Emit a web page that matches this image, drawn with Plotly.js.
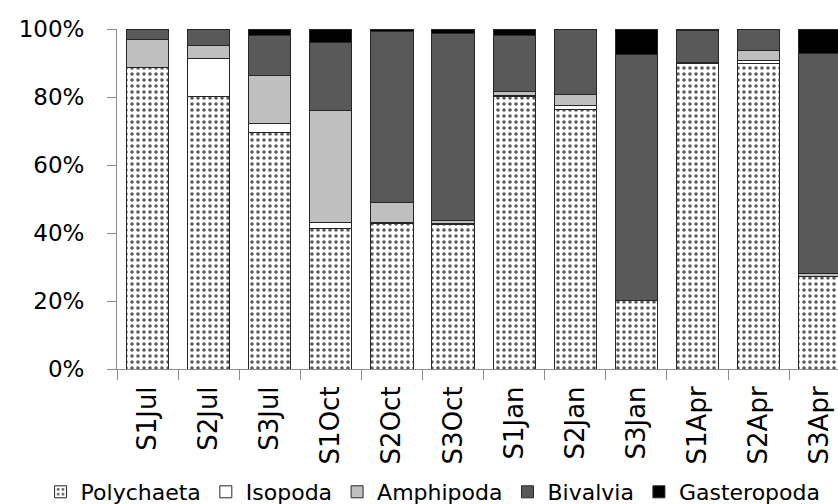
<!DOCTYPE html>
<html>
<head>
<meta charset="utf-8">
<script src="https://cdn.plot.ly/plotly-3.0.1.min.js"></script>
<style>html,body{margin:0;padding:0;background:#fff;}#chart{width:838px;height:504px;}</style>
</head>
<body>
<div id="chart"></div>
<script>
var categories = ["S1Jul","S2Jul","S3Jul","S1Oct","S2Oct","S3Oct","S1Jan","S2Jan","S3Jan","S1Apr","S2Apr","S3Apr"];
var polychaeta  = [88.6, 80.1, 69.5, 41.4, 42.8, 42.5, 80.1, 76.2, 20.1, 89.9, 89.9, 27.3];
var isopoda     = [0.0, 11.3, 2.6, 1.6, 0.3, 0.4, 0.3, 1.4, 0.0, 0.0, 0.7, 0.0];
var amphipoda   = [8.2, 3.7, 14.2, 32.9, 5.8, 0.9, 1.3, 3.0, 0.0, 0.3, 3.0, 0.7];
var bivalvia    = [3.2, 4.9, 11.8, 20.1, 50.3, 54.9, 16.5, 19.4, 72.3, 9.3, 6.4, 64.8];
var gasteropoda = [0.0, 0.0, 1.9, 4.0, 0.8, 1.3, 1.8, 0.0, 7.6, 0.5, 0.0, 7.2];
var yTickVals = [0, 20, 40, 60, 80, 100];
var yTickText = ["0%", "20%", "40%", "60%", "80%", "100%"];

var lineStyle = {color: "#262626", width: 1};
function mk(name, vals, color, pattern) {
  var m = {color: color, line: lineStyle};
  if (pattern) m.pattern = pattern;
  return {type: "bar", name: name, x: categories, y: vals, marker: m, hoverinfo: "x+y+name"};
}
var data = [
  mk("Polychaeta", polychaeta, "#ffffff", {shape: ".", fgcolor: "#5a5a5a", bgcolor: "#ffffff", size: 6, solidity: 0.28}),
  mk("Isopoda", isopoda, "#ffffff"),
  mk("Amphipoda", amphipoda, "#bfbfbf"),
  mk("Bivalvia", bivalvia, "#595959"),
  mk("Gasteropoda", gasteropoda, "#000000")
];

var layout = {
  width: 838, height: 504,
  margin: {l: 117, r: 0, t: 29, b: 135, pad: 0, autoexpand: false},
  paper_bgcolor: "#ffffff", plot_bgcolor: "#ffffff",
  barmode: "stack", bargap: 0.31,
  showlegend: true,
  legend: {orientation: "h", x: -0.106, xanchor: "left", y: -0.3, yanchor: "top",
           font: {family: "DejaVu Sans", size: 22, color: "#000"}, itemgap: 0, itemwidth: 30,
           traceorder: "normal", bgcolor: "rgba(0,0,0,0)"},
  xaxis: {
    type: "category", range: [-0.5, 11.3], automargin: false,
    showline: true, linecolor: "#8c8c8c", linewidth: 1,
    ticks: "outside", tickson: "boundaries", ticklen: 10, tickcolor: "#8c8c8c",
    tickangle: -90, ticklabelstandoff: 6,
    tickfont: {family: "DejaVu Sans", size: 26, color: "#000"},
    showgrid: false, zeroline: false, fixedrange: true
  },
  yaxis: {
    range: [0, 100], tickvals: yTickVals, ticktext: yTickText, automargin: false,
    showline: true, linecolor: "#8c8c8c", linewidth: 1,
    ticks: "outside", ticklen: 9, tickcolor: "#8c8c8c",
    ticklabelstandoff: 18,
    tickfont: {family: "DejaVu Sans", size: 23, color: "#000"},
    showgrid: false, zeroline: false, fixedrange: true
  }
};
Plotly.newPlot("chart", data, layout, {displayModeBar: false, staticPlot: true});
</script>
</body>
</html>
